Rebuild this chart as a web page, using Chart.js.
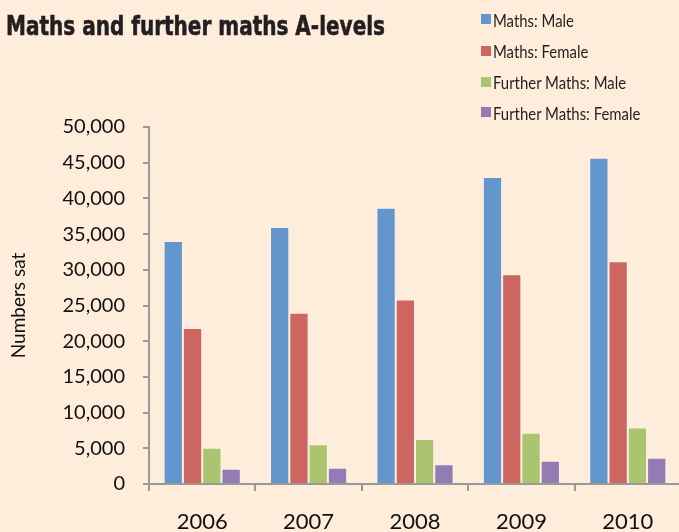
<!DOCTYPE html>
<html>
<head>
<meta charset="utf-8">
<script src="https://cdn.jsdelivr.net/npm/chart.js@4/dist/chart.umd.min.js"></script>
<style>
  html, body { margin:0; padding:0; background:#FEEDDB; overflow:hidden; width:679px; height:532px; }
  #wrap { position:absolute; left:0; top:0; width:681px; height:532px; }
  #title { position:absolute; left:6px; top:0; font-family:"DejaVu Sans Condensed","DejaVu Sans",sans-serif; font-weight:bold; font-size:27px; color:#231F20; white-space:nowrap; transform-origin:0 0; line-height:1; -webkit-text-stroke:0.6px #231F20; }
  .leg { position:absolute; left:481px; white-space:nowrap; }
  .sw { position:absolute; left:0; top:0; width:10px; height:10px; }
  .lt { position:absolute; left:12px; font-family:Lato,sans-serif; font-size:16.5px; color:#231F20; transform-origin:0 0; line-height:1; white-space:nowrap; }
</style>
</head>
<body>
<div id="wrap"><canvas id="c"></canvas></div>
<div id="title">Maths and further maths A-levels</div>
<div id="legend"></div>
<script>
const categories = ["2006", "2007", "2008", "2009", "2010"];
const seriesNames = ["Maths: Male", "Maths: Female", "Further Maths: Male", "Further Maths: Female"];
const mathsMale = [34050, 36000, 38700, 43000, 45700];
const mathsFemale = [21850, 24000, 25830, 29380, 31200];
const furtherMale = [5090, 5550, 6300, 7190, 7930];
const furtherFemale = [2140, 2280, 2750, 3260, 3690];
const colors = ["#6296CC", "#CE6660", "#ABC46F", "#937CB4"];
const yTickMax = 50000, yTickStep = 5000;
const yTitle = "Numbers sat";

const allSeries = [mathsMale, mathsFemale, furtherMale, furtherFemale];

// title fit
const t = document.getElementById('title');
const tw = t.getBoundingClientRect().width;
t.style.transform = 'scaleX(' + (379 / tw) + ')';
t.style.top = (36.7 - 27 * 0.93) + 'px';

// legend
const legend = document.getElementById('legend');
const legTops = [14, 45.5, 76.5, 107.3];
let scale = null;
seriesNames.forEach((n, i) => {
  const d = document.createElement('div');
  d.className = 'leg';
  d.style.top = legTops[i] + 'px';
  const sw = document.createElement('div');
  sw.className = 'sw';
  sw.style.background = colors[i];
  const lt = document.createElement('div');
  lt.className = 'lt';
  lt.textContent = n;
  lt.style.top = '-1.5px';
  d.appendChild(sw); d.appendChild(lt);
  legend.appendChild(d);
  if (scale === null) scale = 81 / lt.getBoundingClientRect().width;
  lt.style.transform = 'scaleX(' + scale + ')';
});

Chart.defaults.font.family = "Lato, sans-serif";
Chart.defaults.color = "#111";

new Chart(document.getElementById('c'), {
  type: 'bar',
  data: {
    labels: categories,
    datasets: seriesNames.map((n, i) => ({
      label: n,
      data: allSeries[i],
      backgroundColor: colors[i],
      borderColor: 'rgba(255,255,255,0.3)',
      borderWidth: 1,
      categoryPercentage: 0.725,
      barPercentage: 1.0
    }))
  },
  options: {
    responsive: true,
    maintainAspectRatio: false,
    devicePixelRatio: 1,
    animation: false,
    layout: { padding: { top: 127, left: 0, right: 0, bottom: 0 } },
    plugins: { legend: { display: false }, title: { display: false }, tooltip: { enabled: false } },
    scales: {
      x: {
        grid: { offset: true, drawOnChartArea: false, drawTicks: true, tickLength: 7, color: '#9A9A9A', lineWidth: 2 },
        border: { color: '#9A9A9A', width: 2 },
        ticks: { font: { size: 22 }, color: '#111', padding: 18 },
        afterFit: s => { s.height = 48; }
      },
      y: {
        min: 0, max: yTickMax,
        grid: { drawOnChartArea: false, drawTicks: true, tickLength: 6, color: '#9A9A9A', lineWidth: 2 },
        border: { color: '#9A9A9A', width: 2 },
        ticks: {
          stepSize: yTickStep,
          font: { size: 20 },
          color: '#111',
          padding: 18,
          callback: v => v.toLocaleString('en-US')
        },
        title: { display: true, text: yTitle, font: { size: 19 }, color: '#111', padding: { top: 7, bottom: 0 } },
        afterFit: s => { s.width = 149; }
      }
    }
  }
});
</script>
</body>
</html>
